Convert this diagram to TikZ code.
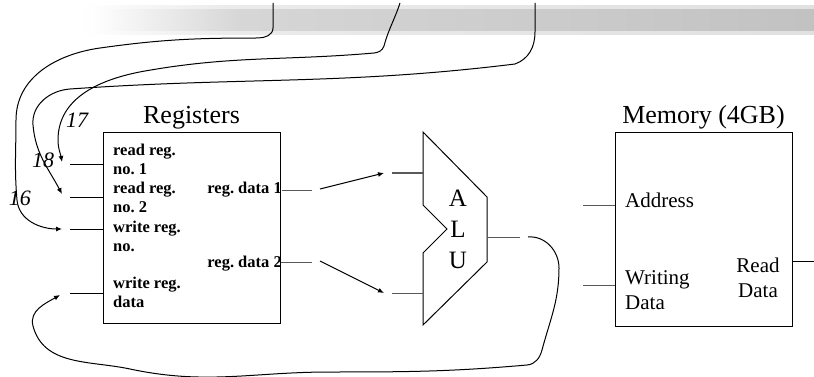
\documentclass[tikz,border=0pt]{standalone}
\usepackage{fontspec}
\setmainfont{Liberation Serif}
\usetikzlibrary{arrows.meta,positioning}

\tikzset{
  blockbox/.style={draw, line width=1pt, inner sep=0pt},
  blocktitle/.style={font=\fontsize{26}{30}\selectfont, inner sep=0pt},
  reglabel/.style={font=\fontsize{16.5}{19}\selectfont\bfseries, align=left, inner sep=0pt},
  memlabel/.style={font=\fontsize{21}{25}\selectfont, align=left, inner sep=0pt},
  regno/.style={font=\fontsize{22}{26}\selectfont\itshape, inner sep=0pt},
  stub/.style={line width=1pt, black!65},
  wire/.style={line width=1pt, -{Latex[length=6pt,width=5pt]}},
}
\frenchspacing

\begin{document}
\begin{tikzpicture}[x=1pt,y=1pt]
  \useasboundingbox (0,0) rectangle (814,-377);
  % brush stroke of the slide template
  \shade[left color=white, right color=black!8] (80,-6) rectangle (230,-35);
  \shade[left color=black!8, right color=black!12] (230,-6) rectangle (814,-35);
  \shade[left color=white, right color=black!16] (90,-10) rectangle (240,-31);
  \shade[left color=black!16, right color=black!24] (240,-10) rectangle (814,-31);

  \node[blockbox, minimum width=177pt, minimum height=190pt] (regs) at (191.5,-228) {};
  \node[blocktitle, above=3pt of regs] (regstitle) {Registers};
  \node[blockbox, minimum width=177pt, minimum height=193pt] (mem) at (703.5,-229.5) {};
  \node[blocktitle, above=3pt of mem] (memtitle) {Memory (4GB)};

  \node[reglabel, anchor=west] (rr1) at (113,-159) {read reg.\\no. 1};
  \node[reglabel, anchor=west] (rr2) at (113,-197.5) {read reg.\\no. 2};
  \node[reglabel, anchor=west] (wrn) at (113,-236) {write reg.\\no.};
  \node[reglabel, anchor=west] (wrd) at (113,-292.5) {write reg.\\data};
  \node[reglabel, anchor=east] (rd1) at (282,-190) {reg. data 1};
  \node[reglabel, anchor=east] (rd2) at (282,-264) {reg. data 2};

  \node[memlabel, anchor=west] (addr) at (625,-200) {Address};
  \node[memlabel, anchor=west] (wdata) at (625,-290) {Writing\\Data};
  \node[memlabel, align=center] (rdata) at (758,-278) {Read\\Data};

  \node[regno] (n17) at (77,-120) {17};
  \node[regno] (n18) at (43,-160) {18};
  \node[regno] (n16) at (20,-198) {16};

  % ALU
  \draw[line width=1pt] (423,-132) -- (487,-197) -- (487,-262) -- (423,-325)
    -- (423,-253) -- (447,-229) -- (423,-205) -- cycle;
  \node[blocktitle, align=center, font=\fontsize{25}{31}\selectfont] (alu) at (458,-229) {A\\L\\U};
  \coordinate (aluA) at (423,-173);
  \coordinate (aluB) at (423,-293);
  \coordinate (aluY) at (487,-237);

  % register inputs
  \foreach \y/\n in {165/1,197/2,229/3,293/4}{
    \coordinate (rin\n) at (70,-\y);
    \draw[line width=1pt] (rin\n) -- (rin\n -| regs.west);
  }
  \coordinate (tip1) at (62,-162);
  \coordinate (tip2) at (62,-194);
  \coordinate (tip3) at (62,-229);
  \coordinate (tip4) at (60,-295);

  % register outputs to the ALU
  \coordinate (rout1) at (312,-190);
  \coordinate (rout2) at (312,-262);
  \draw[stub] (rd1.east) -- (rout1);
  \draw[stub] (rout2 -| regs.east) -- (rout2);
  \coordinate (ra1) at (320,-189);
  \coordinate (ra2) at (320,-261);
  \coordinate (ha1) at (384,-173);
  \coordinate (ha2) at (384,-293);
  \draw[wire] (ra1) -- (ha1);
  \draw[wire] (ra2) -- (ha2);
  \draw[stub] (392,-173) -- (aluA);
  \draw[stub] (392,-293) -- (aluB);

  % ALU result back to write reg. data
  \coordinate (aluout) at (520,-237);
  \coordinate (fb) at (528,-237);
  \draw[stub] (aluY) -- (aluout);
  \draw[wire] (fb) to[out=5,in=90] (559,-268) to[out=-90,in=75] (542,-350)
    to[out=-105,in=5] (527,-365) to[out=185,in=0] (330,-372)
    to[out=180,in=-12] (130,-369) to[out=168,in=-75] (33,-326)
    to[out=105,in=-150] (tip4);

  % instruction fields from above
  \coordinate (srcA) at (273,-3);
  \coordinate (srcB) at (400,-3);
  \coordinate (srcC) at (535,-3);
  \draw[wire] (srcA) -- (273,-28) to[out=-90,in=0] (258,-38)
    to[out=180,in=8] (100,-48) to[out=188,in=90] (16,-120)
    to[out=-90,in=95] (17,-200) to[out=-85,in=180] (tip3);
  \draw[wire] (srcB) to[out=-108,in=75] (384,-46) to[out=-110,in=5] (374,-53)
    to[out=185,in=10] (145,-71) to[out=190,in=90] (58,-140)
    to[out=-90,in=100] (tip1);
  \draw[wire] (srcC) -- (535,-32) to[out=-90,in=20] (515,-64)
    to[out=187,in=4] (70,-89) to[out=184,in=95] (33,-125)
    to[out=-85,in=118] (tip2);

  % memory connections
  \coordinate (maddr) at (583,-205);
  \coordinate (mwd) at (583,-285);
  \coordinate (mout) at (814,-261);
  \draw[stub] (maddr) -- (maddr -| mem.west);
  \draw[stub] (mwd) -- (mwd -| mem.west);
  \draw[line width=1pt] (mem.east |- mout) -- (mout);
\end{tikzpicture}
\end{document}
